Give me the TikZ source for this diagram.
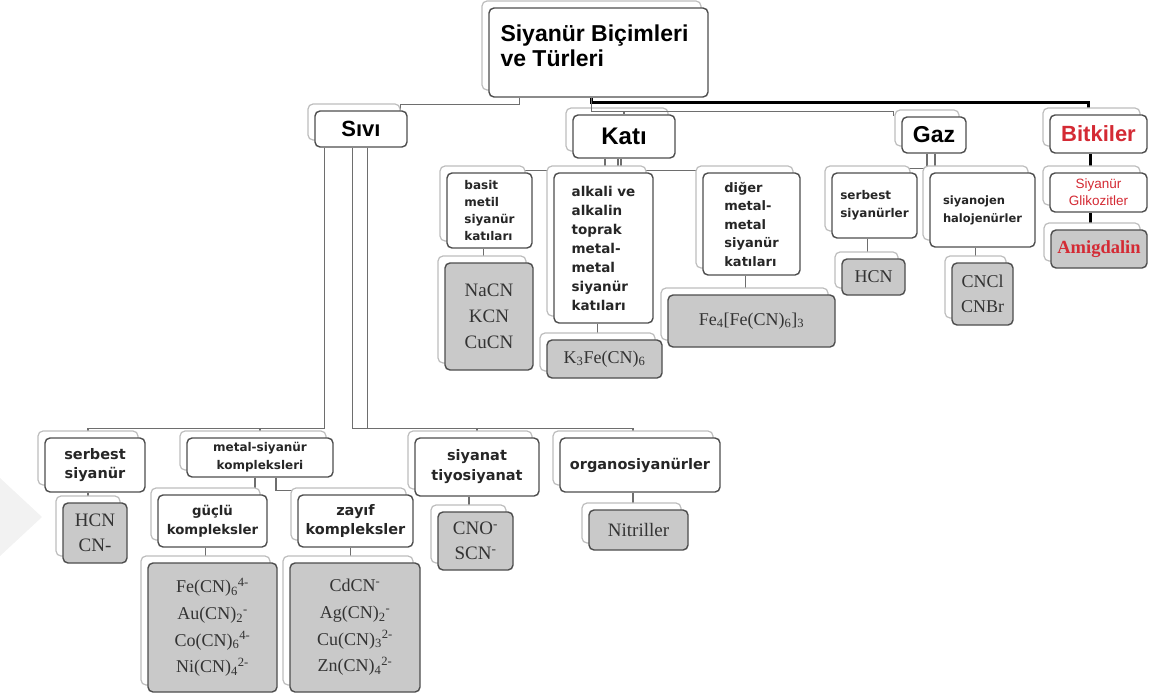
\documentclass[tikz,border=0pt]{standalone}
\usepackage{fontspec}
\setmainfont{Liberation Serif}
\newfontfamily\arialfont{Liberation Sans}
\newfontfamily\verdanafont{DejaVu Sans}
\usepackage{tikz}
\usepackage{xcolor}
\usetikzlibrary{shadows,backgrounds}
\definecolor{BoxLine}{HTML}{4D4D4D}
\definecolor{BoxShade}{HTML}{BDBDBD}
\definecolor{LeafFill}{HTML}{C9C9C9}
\definecolor{LinkGray}{HTML}{6E6E6E}
\definecolor{PlantRed}{HTML}{D42A34}
\newcommand{\lblsize}[2]{\verdanafont\bfseries\fontsize{#1}{#2}\selectfont}
\newcommand{\chemsize}[2]{\rmfamily\fontsize{#1}{#2}\selectfont}
\tikzset{
    % Base box with its offset copy behind
    basebox/.style={
        draw=BoxLine,
        fill=white,
        line width=1.4pt,
        rounded corners=5pt,
        inner sep=2pt,
        align=center,
        general shadow={shadow xshift=-7pt, shadow yshift=7pt, fill=white, draw=BoxShade, line width=1.2pt}
    },
    % Title box
    titlebox/.style={
        basebox,
        font=\arialfont\bfseries\fontsize{23}{25}\selectfont
    },
    % First level boxes
    groupbox/.style={
        basebox,
        font=\arialfont\bfseries\fontsize{22}{26}\selectfont
    },
    % Second level boxes
    subbox/.style={
        basebox,
        text=black!85
    },
    % Gray boxes with formulas
    leafbox/.style={
        basebox,
        fill=LeafFill,
        text=black!80
    },
    % Connectors
    link/.style={
        draw=LinkGray,
        line width=1.3pt
    },
    heavylink/.style={
        draw=black,
        line width=3pt
    }
}
\begin{document}
\begin{tikzpicture}[x=1pt, y=-1pt]
        \useasboundingbox (0,0) rectangle (1155,698);

        % Root
        \node[titlebox, minimum width=219pt, minimum height=89pt] (root) at (598.5,52.5)
            {\parbox[c][55pt][t]{196pt}{Siyanür Biçimleri\\ve Türleri}};

        % Main groups
        \node[groupbox, minimum width=92pt, minimum height=36pt] (sivi) at (361,129) {Sıvı};
        \node[groupbox, minimum width=102pt, minimum height=43pt, font=\arialfont\bfseries\fontsize{24}{28}\selectfont] (kati) at (624,136.5) {Katı};
        \node[groupbox, minimum width=64pt, minimum height=36pt, font=\arialfont\bfseries\fontsize{23}{28}\selectfont] (gaz) at (934,135) {Gaz};
        \node[groupbox, minimum width=97pt, minimum height=38pt, text=PlantRed] (bitki) at (1098.5,134) {Bitkiler};

        % Solid forms
        \node[subbox, align=left, minimum width=85pt, minimum height=75pt, font=\lblsize{12}{17}] (basit) at (489.5,210.5) {basit\\metil\\siyanür\\katıları};
        \node[leafbox, minimum width=88pt, minimum height=107pt, font=\chemsize{19}{26}] (nacn) at (489,316.5) {NaCN\\KCN\\CuCN};
        \node[subbox, align=left, minimum width=99pt, minimum height=150pt, font=\lblsize{13.5}{19}] (alkali) at (603.5,248) {alkali ve\\alkalin\\toprak\\metal-\\metal\\siyanür\\katıları};
        \node[leafbox, minimum width=115pt, minimum height=38pt, font=\chemsize{18}{24}] (kfe) at (604.5,359) {K\textsubscript{3}Fe(CN)\textsubscript{6}};
        \node[subbox, align=left, minimum width=97pt, minimum height=102pt, font=\lblsize{13}{18.5}] (diger) at (751.5,224) {diğer\\metal-\\metal\\siyanür\\katıları};
        \node[leafbox, minimum width=167pt, minimum height=52pt, font=\chemsize{18}{24}] (prusya) at (751.5,321) {Fe\textsubscript{4}[Fe(CN)\textsubscript{6}]\textsubscript{3}};

        % Gas forms
        \node[subbox, align=left, minimum width=85pt, minimum height=65pt, font=\lblsize{12}{18}] (gserbest) at (874.5,205.5) {serbest\\siyanürler};
        \node[leafbox, minimum width=63pt, minimum height=36pt, font=\chemsize{18}{24}] (ghcn) at (873.5,277) {HCN};
        \node[subbox, align=left, minimum width=105pt, minimum height=74pt, font=\lblsize{11.5}{18}] (halojen) at (982.5,210) {siyanojen\\halojenürler};
        \node[leafbox, minimum width=61pt, minimum height=62pt, font=\chemsize{18}{25}] (cncl) at (982.5,294) {CNCl\\CNBr};

        % Plants
        \node[subbox, minimum width=97pt, minimum height=39pt, text=PlantRed, font=\arialfont\fontsize{13.5}{17}\selectfont] (glikozit) at (1098.5,192.5) {Siyanür\\Glikozitler};
        \node[leafbox, minimum width=96pt, minimum height=38pt, text=PlantRed, font=\chemsize{18.5}{24}\bfseries] (amigdalin) at (1099,249) {Amigdalin};

        % Liquid forms
        \node[subbox, minimum width=100pt, minimum height=54pt, font=\lblsize{14.5}{19}] (serbest) at (95,465) {serbest\\siyanür};
        \node[leafbox, minimum width=64pt, minimum height=60pt, font=\chemsize{19}{25}] (hcn) at (95,533) {HCN\\CN-};
        \node[subbox, minimum width=146pt, minimum height=39pt, font=\lblsize{12}{18}] (metal) at (260,457.5) {metal-siyanür\\kompleksleri};
        \node[subbox, minimum width=109pt, minimum height=52pt, font=\lblsize{13.3}{19}] (guclu) at (212.5,521) {güçlü\\kompleksler};
        \node[leafbox, minimum width=129pt, minimum height=129pt, font=\chemsize{18}{26.7}] (fecn) at (212.5,627.5)
            {Fe(CN)\textsubscript{6}\textsuperscript{4-}\\Au(CN)\textsubscript{2}\textsuperscript{-}\\Co(CN)\textsubscript{6}\textsuperscript{4-}\\Ni(CN)\textsubscript{4}\textsuperscript{2-}};
        \node[subbox, minimum width=115pt, minimum height=52pt, font=\lblsize{14.5}{19}] (zayif) at (355.5,521) {zayıf\\kompleksler};
        \node[leafbox, minimum width=130pt, minimum height=129pt, font=\chemsize{18}{26.7}] (cdcn) at (355,627.5)
            {CdCN\textsuperscript{-}\\Ag(CN)\textsubscript{2}\textsuperscript{-}\\Cu(CN)\textsubscript{3}\textsuperscript{2-}\\Zn(CN)\textsubscript{4}\textsuperscript{2-}};
        \node[subbox, minimum width=124pt, minimum height=58pt, font=\lblsize{14.5}{20}] (siyanat) at (477,467) {siyanat\\tiyosiyanat};
        \node[leafbox, minimum width=75pt, minimum height=58pt, font=\chemsize{19}{25}] (cno) at (475.5,541) {CNO\textsuperscript{-}\\SCN\textsuperscript{-}};
        \node[subbox, minimum width=160pt, minimum height=54pt, font=\lblsize{14.5}{19}] (organo) at (640,465) {organosiyanürler};
        \node[leafbox, minimum width=99pt, minimum height=40pt, font=\chemsize{19}{24}] (nitril) at (638.5,530) {Nitriller};

        \begin{scope}[on background layer]
        % faint mark at the left edge
        \fill[black!5] (0,478) -- (42,517) -- (0,556) -- cycle;

        % Root to groups
        \draw[link] (root.south west) ++(31,0) -- ++(0,7) -| ([xshift=-7pt]sivi.north east);
        \draw[heavylink] ([xshift=-7pt]root.south) -- ++(0,5) -| ([xshift=-10pt]bitki.north);

        % Solid
        \draw[link] ([xshift=-19pt]kati.south) -- ++(0,12) -| (basit.north);
        \draw[link] ([xshift=-6pt]kati.south) -- ([xshift=-6pt]kati.south |- alkali.north);
        \draw[link] ([xshift=-3pt]kati.south) -- ++(0,12) -| (diger.north);
        \draw[link] ([xshift=-6pt]basit.south) -- ([xshift=-6pt]basit.south |- nacn.north);
        \draw[link] ([xshift=-6pt]alkali.south) -- ([xshift=-6pt]alkali.south |- kfe.north);
        \draw[link] ([xshift=-6pt]diger.south) -- ([xshift=-6pt]diger.south |- prusya.north);

        % Gas
        \draw[link] ([xshift=-7pt]gaz.south) -- ++(0,15) -| (gserbest.north);
        \draw[link] ([xshift=1pt]gaz.south) -- ++(0,15) -| (halojen.north);
        \draw[link] ([xshift=-7pt]gserbest.south) -- ([xshift=-7pt]gserbest.south |- ghcn.north);
        \draw[link] ([xshift=-7pt]halojen.south) -- ([xshift=-7pt]halojen.south |- cncl.north);

        % Plants
        \draw[heavylink] ([xshift=-8pt]bitki.south) -- ([xshift=-8pt]bitki.south |- glikozit.north);
        \draw[heavylink] ([xshift=-8pt]glikozit.south) -- ([xshift=-8pt]glikozit.south |- amigdalin.north);

        % Liquid
        \draw[link] ([xshift=10pt]sivi.south west) -- ++(0,281) -| ([xshift=-7pt]serbest.north);
        \draw[link] ([xshift=10pt]sivi.south west) -- ++(0,281) -| (metal.north);
        \draw[link] ([xshift=38pt]sivi.south west) -- ++(0,281) -| (siyanat.north);
        \draw[link] ([xshift=53pt]sivi.south west) -- ++(0,281) -| ([xshift=-7pt]organo.north);
        \draw[link] ([xshift=-5pt]metal.south) -- ++(0,13) -| (guclu.north);
        \draw[link] ([xshift=16pt]metal.south) -- ++(0,13) -| (zayif.north);
        \draw[link] ([xshift=-7pt]serbest.south) -- ([xshift=-7pt]serbest.south |- hcn.north);
        \draw[link] ([xshift=-7pt]guclu.south) -- ([xshift=-7pt]guclu.south |- fecn.north);
        \draw[link] ([xshift=-5pt]zayif.south) -- ([xshift=-5pt]zayif.south |- cdcn.north);
        \draw[link] ([xshift=-8pt]siyanat.south) -- ([xshift=-8pt]siyanat.south |- cno.north);
        \draw[link] ([xshift=-7pt]organo.south) -- ([xshift=-7pt]organo.south |- nitril.north);
        \end{scope}

        % Root to solid and gas, over the shadows
        \draw[link] ([xshift=-7pt]root.south) -- ++(0,14) -| (kati.north);
        \draw[link] ([xshift=-7pt]root.south) -- ++(0,14) -| ([xshift=-8pt]gaz.north west);
    \end{tikzpicture}
\end{document}
